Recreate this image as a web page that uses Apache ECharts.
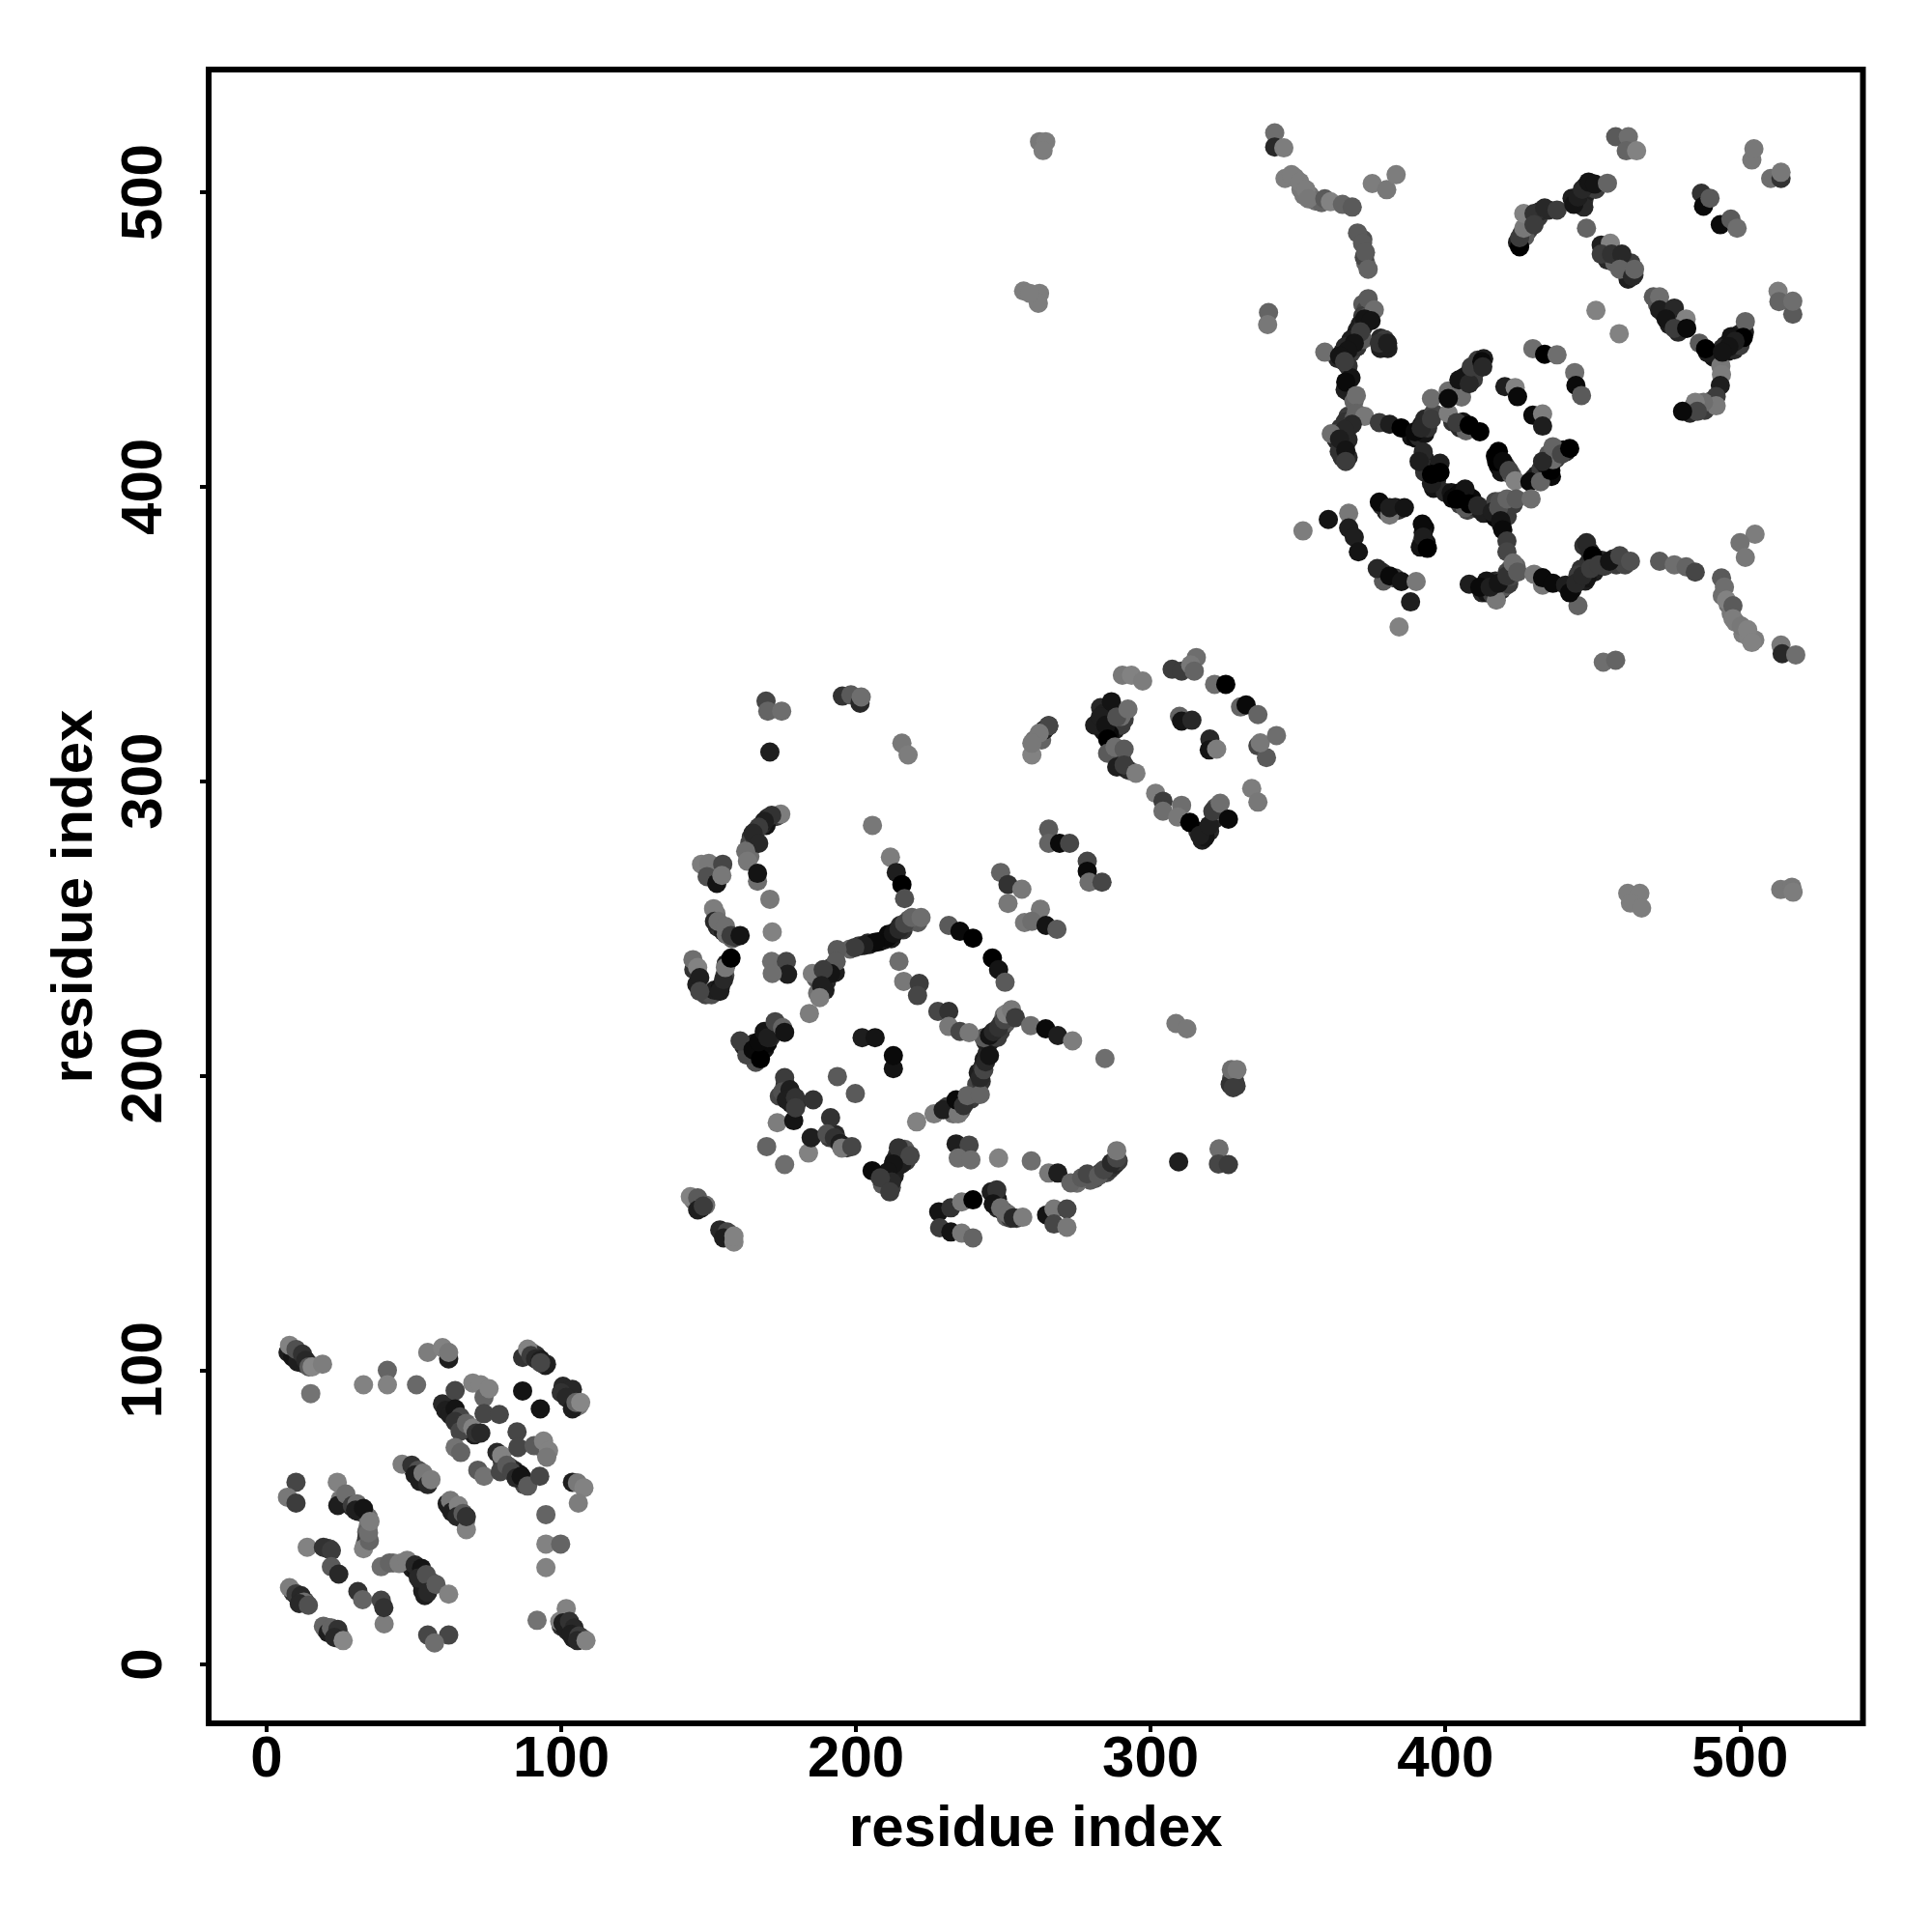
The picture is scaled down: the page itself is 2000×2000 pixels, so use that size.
<!DOCTYPE html>
<html>
<head>
<meta charset="utf-8">
<script src="https://cdn.jsdelivr.net/npm/echarts@6/dist/echarts.min.js"></script>
<style>html,body{margin:0;padding:0;background:#fff}#c{width:2000px;height:2000px}</style>
</head>
<body>
<div id="c"></div>
<script>
const tickLabels = [0,100,200,300,400,500];
const axisTitle = "residue index";
// each row: residue x, residue y, grey level
const underA = [[9,105.5,40],[11,104,20],[12,102.5,30],[13,102,60],[14.5,102,100],[90,106,110],[91.5,105,50],[93,103.5,20],[95,102,40],[101,93,30],[102.5,91.5,30],[103,90,20],[104,89,60],[105,87.5,100],[106,88,120],[61,87.5,20],[62,86,40],[63,85,20],[64.5,84,30],[66,82.5,50],[67,81,80],[68.5,80,100],[69.5,79,50],[70.5,78,30],[80,69,60],[81,68,50],[82.5,67,70],[84,66,40],[85,65,30],[86,64.5,20],[87,63,50],[88,62,30],[87.5,61,70],[93,74,110],[94.5,73,130],[95,71.5,125],[50,66,40],[51,65,30],[52,64,50],[53,63,40],[54,62.5,110],[55,62,120],[62,53.5,30],[63.5,53,60],[64,52.5,100],[65.5,52,100],[66.5,49.5,50],[67.5,48.5,110],[25,56,120],[27,55.5,80],[28,54.5,50],[29,53.5,40],[31,52,30],[32,52,20],[33.5,51,50],[34.5,50,110],[34.5,47,120],[34,45,100],[33.5,41,100],[34,43,60],[43,34.5,120],[46,34.5,120],[49,34,50],[49.5,32.5,30],[51,31.5,20],[53,31,40],[53.5,29,30],[52.5,28,40],[55,27.5,70],[56,28,90],[53,25,30],[55,26,60],[20.5,39.5,40],[21.5,39.2,70],[100,13,50],[101,13,20],[102,11.5,40],[103,12,30],[104,11,60],[104,9,30],[105,10,80],[106.5,8.5,50],[107,9,100],[9,24.5,50],[10.5,23,30],[12,22,40],[13,21.5,70],[20,12,50],[21,12.5,70],[23,11,40],[24,9,60],[25,9.5,110]];
const underB1 = [[145,157.5,110],[147,156.5,60],[147.5,155,30],[149,156,110],[155,146,30],[156,145.5,40],[157,145,60],[157.5,146,100],[173,288,60],[170,287.5,40],[169.5,285,20],[168,285,40],[166,283,30],[164.5,281,50],[164,279,70],[164,277,100],[163.5,275,120],[164,274.5,110],[165.5,281,60],[204,245,40],[208,245.5,10],[209.5,246,20],[211,248,10],[212,246.5,30],[213.5,249,20],[215,251,40],[216,249.5,50],[217.5,252,70],[218,253,90],[220.5,253,100],[221,252,90],[201,244,60],[204.5,244.5,30],[198,243,100],[190,235,50],[190,232,40],[189.5,229,30],[186.5,233,90],[192,237,60],[193,235,30],[187,228,110]];
const underB2 = [[162,210,40],[163,209,30],[164,210,20],[165.5,211,30],[166,207,0],[168,208,20],[169,209,20],[170,211,10],[171,213,40],[171,215,30],[172,216,50],[173,217,90],[174,216.5,60],[166,204.5,80],[163,207,70],[174,193,70],[176,197,50],[178,194,40],[178,190.5,30],[180,191,40],[191,179,60],[193,180,40],[193.5,178,80],[196,176,110],[197,175.5,60],[214,173,50],[215,172,60],[216,174,70],[217,171,60],[213,171,30],[212,168,20],[214,169,40],[210,165,60],[213,166,30],[211,163,40],[209,163,90],[212,162,70],[215.5,170,30],[216.5,175,90]];
const underB3 = [[231,189.5,60],[232.5,188,20],[233,187,110],[235,190,30],[235.5,188,90],[237,191,70],[239,192,60],[240,194,100],[241,197,70],[241.5,201,30],[243,203,50],[243.5,205.5,30],[244.5,207.5,40],[242.5,198,50],[244,211.5,40],[245,211,30],[246.5,212.5,30],[247.5,214,30],[248,213,60],[249,215,60],[250,217,60],[249.5,218,50],[251,218,90],[252,220,110],[250.3,220.5,110],[253,221,70],[152.5,255,120],[153,250.5,40],[154,250,50],[155,249,30],[156,248,40],[158,246.5,100],[159,247,60],[156,248,110],[145,236,50],[146,231,30],[149,227.5,70],[151,227.5,80],[152,229,30],[154,230,20],[155.5,234,70],[156,238,30]];
const underB4 = [[283,325,40],[284,323,30],[286,321,40],[287,319,60],[288,317.5,30],[284,317,20],[285,322,30],[289,320,100],[290,319,60],[291,321,60],[290,322,110],[286,316,10],[289,309,80],[290,308,50],[289.5,306,60],[293,303.5,110],[292,304,40],[316,283,50],[318,283,20],[317.5,280,30],[320,283,40],[318.5,281,20],[321.5,287,40],[322,291,80],[323,290,110],[260.5,314,110],[263,314,100],[264,317.5,30],[327.5,199,70],[328.5,198,60],[329,196.5,60],[327,197,50],[285,167,70],[286,168,60],[287,169,50],[288,170,40],[289,171,60],[281,165,80],[279.5,164.5,90],[275,163.5,110],[283,167,60],[248,158,30],[248,155,40],[250,154,30],[251,152,100],[252.5,151.5,60],[254.5,151.5,70]];
const underC1 = [[372,462,90],[373,460,70],[372,458,60],[374,458,80],[371,455,30],[370,453,30],[372,454,50],[369.5,451,20],[368,450,30],[367,448,30],[365,445.5,20],[363.5,443.5,40],[366,447.5,40],[368,445.5,60],[370,447.5,50],[378,450.5,40],[379.5,450,60],[378,447,30],[380.5,447,30],[372,450,90],[367,441,50],[367,424,60],[366,422,50],[364.5,420,50],[363,418,70],[367,420,40],[365,417.5,60],[363,416,40],[365,414,30],[367,416,40],[365,410,50],[367,410,40],[364,412,50],[369,423,90],[366,433,30],[367.5,432,30],[368,437,20],[369,429,100]];
const underC2 = [[388.5,417,20],[390,416.5,10],[391,417,40],[392,421,30],[393,418,20],[394,420,50],[393,423,40],[396,425,70],[393,409.5,30],[394,406,40],[396,403,10],[397,405.5,10],[393,405,50],[396,399.5,20],[397,402,40],[400,398,40],[402,398,20],[404,397,0],[405,398,10],[405,394,60],[407.5,392,70],[409,396,10],[410,393,50],[412,392,30],[413,391,30],[416,393,50],[417,395,70],[418.5,395,80],[419,390,30],[420,393.5,40],[421,390,60],[423,394,60],[417,389.5,10],[419,387,20],[430,403,60],[431,404,30],[432.5,406,60],[434,407.5,20],[435,411,90],[436,403.5,10],[437.5,409.5,60],[438,412,50],[440,412.5,20],[441,412,40]];
const underC3 = [[403,432,40],[405.5,433.5,30],[406,437,30],[407,435,50],[407.5,438,20],[410,439,40],[410,441,50],[411,443,60],[409.5,436.5,60],[405.5,430.5,110],[413,443.5,30],[402.5,422,50],[405,420,40],[406,422,20],[407,419,100],[417,410.5,0],[418,407,10],[420.5,407,40],[419,405,20],[422.5,404,90],[447,380,50],[449,378,40],[451,375,30],[448.5,374,40],[450.5,371,30],[446,372,50],[445,370,60],[447.5,368,30],[443,365,20],[448,369,20],[453,375,40],[454,373,60],[457,375.5,40],[458,373.5,60],[460,375,30],[461,373.5,70],[412.5,364,40],[414,364,20],[416,363.5,60],[416.5,366,30],[417,368,40],[419,365,40],[419,368,60],[420,366,90],[421.5,367,60],[422,369.5,70],[422,372,90],[424,373,100],[421,371,70],[414,368,20],[378.5,371,50],[383,369,70],[379,368,90]];
const underC4 = [[379.5,393,20],[383,393,30],[384,392,50],[380,391.5,30],[378.5,393.5,40],[393,386,10],[392.5,384.5,20],[392,381,90],[391.5,379.5,20],[393.5,381,20],[424.5,483,30],[426,486,40],[428,487,60],[428.5,490,110],[427,485,90],[431.5,491.5,60],[432,493.5,40],[435,494,40],[444,497,20],[445.5,496.5,40],[446.5,499,20],[447,497.5,50],[448,500,30],[449,501.5,40],[447.5,502,30],[449.5,503,30],[451,501,60],[447,495,40],[443,498,30],[460.5,474,60],[461,476,30],[462,473,70],[463,476,60],[464,472,50],[462,470.5,30],[458,477,50],[455,477,40],[457.5,476,100]];
const underC5 = [[472,462,80],[474,459,40],[476,458,50],[478,457,60],[476,455,30],[479,456,100],[480,455,110],[479,452.5,40],[495,448,30],[496,446,20],[497,449,40],[498,446.5,40],[499,450,20],[500,448,60],[501.5,452.5,30],[500,452,30],[497,451,20],[494,447,40],[492.5,444.5,40],[491,444,20],[489,445.5,30],[486,427,110],[488,426,60],[490,429,90],[483,425,40],[484,427,100],[493.5,441,120],[349,505,125],[351,501,120],[352,499,120],[354,499,115],[356,497,110],[358,496.5,100],[372,484,80],[373,476,100],[372.5,478,70],[494,363,110],[496,360,110],[497,357,120],[498.5,354,125],[501,350,125],[503,349,130],[505,348,125]];
const domainA1 = [[7.3,106,30],[8.9,104.4,20],[10.6,102.7,30],[7.8,108.4,130],[10,107,80],[12.2,105.4,50],[13.3,103.3,40],[14.4,101.1,90],[15.5,101.1,135],[19,102,125],[15,92,115],[32.9,95,130],[41,99.9,100],[41,95,130],[50.9,95,105],[54.7,106,125],[61.8,103.8,30],[59.7,107.6,130],[61.8,106,120]];
const domainA2 = [[86.9,104.3,50],[88.6,107.1,130],[89.7,104.9,60],[91.3,103.8,40],[92.9,103.3,30],[94.6,101.6,30],[93,102.5,70],[86.9,92.9,20],[92.9,86.8,20],[100.6,94.5,40],[102.2,92.9,40],[103.8,93.4,40],[100,92.3,50],[101.7,90.7,40],[103.8,86.8,30],[105,89,100],[106.6,89,135]];
const domainA3 = [[59.7,88.5,40],[60.8,86.3,30],[62.4,84.7,30],[64,93,70],[64,86.8,20],[65.7,84.1,70],[64,82.5,50],[65.7,79.2,70],[67.8,81.9,100],[70,80.3,130],[71.1,78.6,50],[72.7,78.6,40],[70,95.6,130],[72.7,95,130],[73.8,90.7,100],[75.5,93.7,130],[73.8,85.2,70],[79,84.9,70],[64,73.7,115],[65.9,72,100],[71.7,66,90],[73.8,63.9,115]];
const domainA4 = [[78.2,72,40],[79.8,71,130],[85,79,70],[85.3,73.7,70],[90.8,74.3,90],[94,75.9,130],[95.7,72.6,130],[95.1,70.4,120],[79.3,65.5,70],[81.5,67.7,90],[83.1,65.5,70],[84.7,63.3,40],[86.4,63.9,20],[88.6,60.6,90],[92.7,63.9,70],[103.8,61.9,30],[105.5,61.7,120],[107.7,60,130],[105.8,54.8,125],[94.8,50.9,100],[94.8,40.9,130],[99.8,40.9,100],[94.8,32.9,130],[101.7,19,130],[91.8,15,115]];
const domainA5 = [[99.5,14.6,130],[100.6,14.1,30],[101.7,12.4,30],[102.8,14.6,50],[104.4,12.4,40],[103.3,10.3,30],[106,9.7,60],[105.5,8.1,40],[108.4,8.1,130],[46,68,125],[49.3,67.7,50],[51.5,66,80],[50.4,64.4,30],[52,62.2,30],[53.1,65,120],[54.7,61.1,40],[55.8,62.8,125],[61.3,54.6,30],[62.4,55.7,120],[62.9,51.8,30],[65.1,54,130],[64.6,50.2,40],[67.8,45.8,130],[66.7,51.3,90],[67.8,50.2,50]];
const domainA6 = [[10,61.9,70],[7.1,56.8,120],[10,54.8,60],[24,61.9,130],[24.2,54,30],[26.9,57.9,110],[29.1,54,60],[30.7,54.6,110],[30.2,52.4,30],[32.9,53,20],[32.9,39.3,130],[34.9,42,100],[34.6,44.7,110],[35.1,48.6,125],[13.8,39.8,130],[19.3,39.8,50],[22,38.7,60],[22,33.2,90],[24.5,30.7,40],[31,24.8,50],[32.6,22,100],[39.9,13.8,125],[38.9,21.8,70],[39.8,19.3,50]];
const domainA7 = [[38.9,33.2,110],[41.7,34.5,100],[45,34.3,125],[47.7,35.4,125],[50.4,33.8,40],[52.6,32.7,20],[51.5,29.4,40],[54.2,30.5,80],[53.7,23.4,30],[54.7,24.5,40],[57.5,27.2,90],[61.8,23.9,130],[7.8,26.1,125],[10,24,60],[11.7,23.4,40],[12.7,21.2,110],[11.1,20.7,40],[14.2,20.1,80],[19.3,13,100],[20.9,10.8,30],[22,12.4,100],[24.2,11.9,50],[23.1,9.2,40],[26,8.1,135],[54.7,10,70],[61.8,10,70],[57,7.3,110]];
const domainB1 = [[143.8,158.9,130],[146.3,158.5,90],[146.3,154.4,30],[148.2,155.7,60],[153.8,147.6,40],[156.3,146.9,70],[155.1,144.9,30],[158.6,143.5,130],[158.6,145.5,130],[169.7,175.9,100],[175.8,169.8,110],[183.9,173.7,130],[184.8,178.9,30],[191.4,185.7,50],[190.2,180.2,80],[192.7,178.9,50],[194.6,176.9,30],[195.2,175.4,120],[198.6,175.9,70],[173.3,184,125],[178.9,184.7,20]];
const domainB2 = [[175.8,199.3,60],[175.1,194.5,80],[177.6,195.2,30],[176.4,191.8,30],[179.5,192.5,50],[179.5,189.1,60],[185.5,191.8,50],[193.7,199.7,90],[199.8,193.9,90],[220.6,184.3,130],[226.5,187,125],[229.6,188.4,30],[234.7,187,120],[234,191.8,10],[236.5,189.8,50],[237.8,193.2,100],[242.2,193.6,100],[242.2,199.3,40],[243.4,202,70],[244,204.7,40],[245.3,206.8,20]];
const domainB3 = [[243.4,212.9,90],[245.3,213.6,20],[246.6,214.9,40],[248.4,216.3,50],[250.3,219,70],[251,221,130],[252.8,222.4,120],[254.1,219.7,60],[259.3,217,110],[264.4,215.9,10],[268.5,213.6,30],[273.5,211.8,125],[284.5,205.8,110],[231.5,251,90],[235.3,249,10],[239.7,246.7,0],[246.3,239.9,0],[248.4,236,20],[250.6,231.7,90],[227.8,221.8,70],[231.5,221.8,50],[231.5,216.7,120],[235.3,215,70],[238.4,214.6,120]];
const domainB4 = [[214.6,238.8,110],[216.2,232,120],[221.5,231.3,60],[220.9,227.2,70],[205.6,285,120],[211.7,274.2,125],[213.7,269,30],[215.6,264.9,0],[216.5,260.1,80],[210.8,246.9,10],[212.7,248.3,20],[214.6,249.7,40],[216.5,251.7,70],[219,253.7,100],[222.1,253.7,110],[206.5,245.3,10],[202.7,244.2,30],[199.6,243.5,60],[193.6,242.8,90],[193.3,238.8,90],[185.2,234.7,125],[191.4,234.7,20],[188.9,236,60],[188.3,230.6,30],[187.7,226.5,125],[184.2,221.1,125]];
const domainB5 = [[202.1,212.9,30],[206.5,212.9,20],[212.7,202.4,20],[212.7,206.8,10],[160.7,211.8,60],[165.1,208.8,10],[167.6,205.7,0],[167,211.5,10],[168.9,215,20],[170.1,212.9,30],[172.6,218.3,70],[175.1,216.3,100],[175.8,214.7,20],[169.5,327.2,70],[170.1,323.8,100],[174.8,323.8,110],[170.8,309.9,30],[195.4,328.9,50],[198.3,329.3,90],[201.4,326.5,40],[201.8,328.6,110],[215.6,312.9,120],[217.7,308.9,125]];
const domainB6 = [[174.5,288.8,125],[171.4,288.4,50],[168.9,286.4,30],[167,284.4,60],[165.1,282.3,40],[167,278.9,40],[162.6,276.2,110],[163.2,272.8,120],[166.6,266,110],[166.6,268.7,20],[170.8,259.9,120],[171.6,248.8,130],[147.6,271.8,125],[150.1,272.1,120],[154.8,271.8,70],[149.5,267.6,80],[152.8,265.3,20],[154.5,268,120],[151.7,256.7,125],[152,252.4,40],[153.2,252.4,110],[155.7,250.7,110],[157.6,247.6,60],[160.7,247.6,20]];
const domainB7 = [[144.7,239.4,110],[146.3,236.7,130],[147,233.3,30],[147,228.6,70],[153.8,228.6,30],[155.1,232.6,40],[155.7,236.7,120],[157.6,239.9,0],[171.4,238.8,110],[176.4,238.8,70],[176.8,234.4,30],[171.6,234.7,110],[249.1,269,100],[251.6,264.9,50],[251.6,258.5,120],[256.3,263.3,120],[257.2,252,120],[262.6,256.5,120],[259.7,252.4,110],[264.5,251,20],[268.2,249.7,90]];
const domainB8 = [[265.4,283.7,90],[265.4,278.9,100],[269.1,278.9,10],[272.5,278.9,70],[278.5,272.8,70],[278.5,269.4,10],[279.1,265.7,110],[283.5,265.7,70],[265.4,318.8,20],[265.4,318.8,70],[262.2,316.3,120],[259.7,308.9,130],[259.7,312.9,120],[286.7,327,20],[281,319,30],[282.9,321.8,30],[284.8,319,20],[285.4,314.3,0],[288.5,321.8,80],[292.3,324.5,110],[285.4,309.5,90],[287.9,311.6,110],[291,310.9,90],[288.5,304.8,30],[291,305.5,60],[295,302.7,125]];
const domainB9 = [[290.4,336,120],[293.5,336,130],[297.3,334,125],[307.3,338,60],[310.5,337.4,60],[315.5,342,110],[313.6,339.5,120],[314.8,337.4,100],[321.7,332.9,110],[325.5,332.9,0],[330.5,325.2,100],[332.4,325.9,10],[336.4,322.6,100],[309.8,322,100],[310.5,320.4,20],[314,320.7,40],[320.1,314.3,40],[319.9,310.6,20],[322.4,310.9,125],[336.4,312,70],[339.3,308,90],[337.2,313,120],[342.7,315.5,110],[334.3,297.5,125],[336.4,292.9,120]];
const domainB10 = [[301.7,295.9,125],[304.2,293.2,60],[304.2,289.8,110],[310.5,291.8,110],[309.2,287.8,120],[313.3,286,0],[316.7,281.6,30],[319.9,285,30],[321.1,289.8,60],[323.6,292.5,110],[326.4,287.1,10],[327.4,202,110],[329.3,202,120],[328,195.9,60],[308.6,217.7,120],[312.3,215.9,120],[309.5,170.7,30],[323.2,175.1,110],[323,170,70],[326.4,169.8,60]];
const domainB11 = [[248.4,172,130],[259.5,171,110],[265.4,166.9,120],[268.5,166.9,30],[272.9,163.6,100],[276.6,165.3,90],[278.5,166.6,70],[282.3,166,90],[284.1,168,70],[286.7,170.4,40],[288.5,172,70],[288.5,174.5,120],[234,176.8,30],[238.4,176.4,70],[234.7,172,110],[239,171.4,110],[214.4,175.5,50],[218.4,172.8,70],[212.7,170,20],[210.8,167.3,20],[212.1,163.9,40],[205.5,167.7,10],[208.3,165.3,60],[211.5,160.5,60]];
const domainB12 = [[228.1,153.7,20],[232.2,155.1,50],[235.9,157.1,120],[239.7,157.8,0],[228.4,148.3,60],[232.2,146.9,20],[235.9,146.5,120],[239.7,144.9,100],[245.9,160.5,30],[247.8,161.2,50],[246.6,156.4,20],[249.1,155.1,110],[251.6,153,110],[253.4,151.7,40],[256.6,151.9,125],[264.7,152.7,20],[267.2,154.7,120],[271.6,154.7,70],[267.2,149.6,70],[271.6,148.5,120]];
const domainC1 = [[342.1,520.2,110],[342.1,515.4,40],[345.2,515.1,125],[345.6,504.7,125],[347.8,506,125],[350.6,503.5,125],[352.7,500.9,125],[353.5,497.8,120],[359.1,497.8,90],[361,496.8,130],[365.1,495.9,100],[368.4,495,90],[375.2,503,125],[380.1,500.9,120],[383.3,506,125],[370.2,486.2,90],[371.9,482.7,90],[372.9,479.6,90],[373.8,473.9,100]];
const domainC2 = [[373.8,463.9,90],[375.9,460.1,110],[372.6,457,20],[374.8,456.4,20],[371.2,452.6,60],[377.6,448.8,50],[380.4,448.8,30],[359.1,445.7,110],[369.1,448.8,20],[366.9,446.3,20],[364.1,444.4,20],[365.8,442.5,60],[366.2,435.6,10],[369.8,431,110],[369.8,425,100],[372.6,423.9,120],[368.4,421.2,40],[365.8,419.3,40],[361.3,418,110],[364.1,416.2,30],[366.2,412.4,20],[366.2,408.6,60]];
const domainC3 = [[377.6,421.8,60],[381.1,421.2,30],[385,420,0],[389.7,418.7,10],[391.8,419.9,40],[395.3,423,60],[395.3,430,110],[401,424.9,125],[403.9,421.8,60],[408.1,420.9,0],[411.7,418.7,0],[401,432.5,110],[401,430,10],[404.6,436.3,20],[408.1,435,40],[408.8,440.7,60],[412.4,442.5,10],[412.7,440.7,40],[420.2,434,30],[423.7,433.7,130],[424.5,430.6,10],[429.7,446.9,110],[433.7,445,0],[437.9,444.8,110],[443.9,438.8,110],[444.3,434.4,10],[446.2,431,90]];
const domainC4 = [[429.7,424.3,10],[433,424.7,125],[433,420.6,30],[418,412,0],[417.4,408.6,0],[419.5,408.6,10],[421.6,405.5,70],[423.7,402,130],[428.7,401.7,10],[432.3,401.7,100],[435.8,405.5,0],[436.5,409.2,110],[433,408.6,40],[436.5,413.6,100],[439.4,411.1,70],[442.2,413,0],[392.5,411.8,40],[391.1,408.6,30],[398.2,408,30],[395.3,401.1,30],[395.3,404.2,0],[398.2,404.9,0]];
const domainC5 = [[402.4,396,10],[406.7,399.2,20],[406.7,392.9,90],[403.9,395.8,0],[408.1,394.2,0],[411,393.6,40],[415.9,391.4,30],[418.1,392.9,80],[420.9,395.9,100],[424,395.9,90],[429.1,395.9,110],[418.8,388.5,20],[419.5,385.4,10],[420.9,381.6,60],[420.9,377.9,70],[381.1,390.4,120],[377.6,394.8,10],[381.1,392.9,30],[386.1,392.9,20],[392.2,387.3,10],[392.5,382.9,30],[393.9,379.1,0]];
const domainC6 = [[351.7,385,125],[360.3,388.9,20],[367.2,391,120],[367.2,386,30],[369.1,382.9,30],[370.5,377.9,20],[376.9,372.2,40],[381.1,369.7,10],[385.1,367.8,20],[390.1,367.8,120],[388.2,360.9,30],[384.3,352.4,130],[408.1,366.9,30],[411.7,365.9,10],[417.3,361.5,120],[415.2,365.9,30],[418,367.2,20],[420.9,369.7,50],[423,374.1,110],[424.5,371,90]];
const domainC7 = [[430.1,370.3,120],[433,366.6,120],[433,369.1,10],[436.5,367.2,10],[440.8,366.6,30],[445,359.6,100],[442.2,364,10],[444.3,367.2,40],[446.5,369.7,40],[447.9,381,40],[450,376.6,0],[449.3,372.2,60],[452.1,373.5,60],[455.7,374.7,20],[459.2,376.6,70],[462.8,374.7,80],[472.7,374.7,90],[477.7,373.5,110],[481.7,372.8,100],[484.8,371,70],[505.1,383.9,125],[500,381,115],[501.8,376,120]];
const domainC8 = [[493.7,369,90],[494.7,365.9,110],[495.4,361.5,130],[497.6,359.6,90],[497.6,355.2,125],[500.4,352.7,120],[502.6,351.5,130],[504,347.1,130],[513.9,346.2,120],[514.3,343.3,40],[518.9,342.9,110],[453.6,340.4,110],[457.8,341.1,100],[451.1,459.9,130],[459,452,130],[340,459.2,100],[339.7,455.1,120],[461.9,261.9,125],[466,261.9,125],[462.8,258.6,125],[466.6,256.9,125],[513.8,263.2,120],[517.6,264,120],[518,262.3,125],[262.3,517.2,120],[264.4,517.2,125],[263.5,514.2,125],[256.9,466.5,125],[262.3,465.7,125],[261.9,462.3,125],[259,465.7,125]];
const domainC9 = [[425.2,481.5,0],[425.2,484.6,60],[426.6,487.8,120],[426.6,492.8,130],[430.1,492.8,50],[430.1,489,60],[433.7,494.7,40],[437.9,494,60],[443.6,495.9,20],[445,498.4,30],[446.5,501,40],[448.6,503.5,20],[450.7,502.8,20],[455,503.1,100],[447.9,487.8,100],[452.9,482.1,30],[456,482.7,130],[452.9,479,60],[456.4,479,50],[459.9,479,40],[459.2,473.9,100],[463.5,471.4,40],[464.2,473.9,100]];
const domainC10 = [[470.6,464.5,90],[472.7,464.5,110],[472.7,460.1,30],[477.7,460.7,40],[474.9,457,20],[481.7,457,130],[477.7,453.8,60],[481.9,453.8,10],[486.2,448.8,90],[488.3,446.9,0],[501.8,456.1,100],[501.1,450.7,0],[498.3,449.4,30],[496.2,447.6,20],[494,445.7,20],[493.7,438.1,125],[493.3,434.4,30],[491.9,430.6,60],[491.9,427.5,120],[487.6,428.7,110],[484.8,428.7,125],[485.5,425.6,70],[480.5,425.6,10]];
const domainC11 = [[457.8,518.9,90],[462.1,518.9,110],[461.4,514.1,100],[464.9,514.1,130],[486.9,499.7,50],[487.6,495.3,10],[489.8,498,90],[493.3,489,10],[496.9,490.9,90],[499,487.8,110],[504,511,120],[504.7,514.8,120],[510.4,504.7,110],[513.9,504.7,50],[513.9,506.8,120],[512.9,466.4,125],[513.2,462.9,100],[517.9,458.6,90],[517.9,463,110]];

const points = [].concat(underA,underB1,underB2,underB3,underB4,underC1,underC2,underC3,underC4,underC5,
  domainA1,domainA2,domainA3,domainA4,domainA5,domainA6,domainA7,
  domainB1,domainB2,domainB3,domainB4,domainB5,domainB6,domainB7,domainB8,domainB9,domainB10,domainB11,domainB12,
  domainC1,domainC2,domainC3,domainC4,domainC5,domainC6,domainC7,domainC8,domainC9,domainC10,domainC11);

const labelFont = {fontFamily:'"Liberation Sans"',fontWeight:'bold',fontSize:60,color:'#000'};
function axis(extra){
  return Object.assign({
    type:'value',
    name:axisTitle,
    nameLocation:'middle',
    nameTextStyle:labelFont,
    splitLine:{show:false},
    axisLine:{show:false,onZero:false},
    axisTick:{show:true,length:9,inside:false,lineStyle:{color:'#000',width:4},customValues:tickLabels}
  },extra);
}
const chart = echarts.init(document.getElementById('c'),null,{renderer:'canvas'});
chart.setOption({
  animation:false,
  backgroundColor:'#fff',
  grid:{left:216,right:71.5,top:72,bottom:216,show:true,borderColor:'#000',borderWidth:6,backgroundColor:'transparent'},
  xAxis:axis({min:-19.64,max:541.7,nameGap:80,axisLabel:Object.assign({},labelFont,{customValues:tickLabels,margin:8,hideOverlap:false})}),
  yAxis:axis({min:-20,max:541.7,nameGap:108,nameRotate:90,axisLabel:Object.assign({},labelFont,{customValues:tickLabels,rotate:90,margin:36,hideOverlap:false})}),
  series:[{
    type:'scatter',
    symbol:'circle',
    symbolSize:20,
    data:points,
    itemStyle:{opacity:1,color:function(p){const g=p.data[2];return 'rgb('+g+','+g+','+g+')';}},
    emphasis:{disabled:true},
    silent:true,
    z:1
  }]
});
</script>
</body>
</html>
